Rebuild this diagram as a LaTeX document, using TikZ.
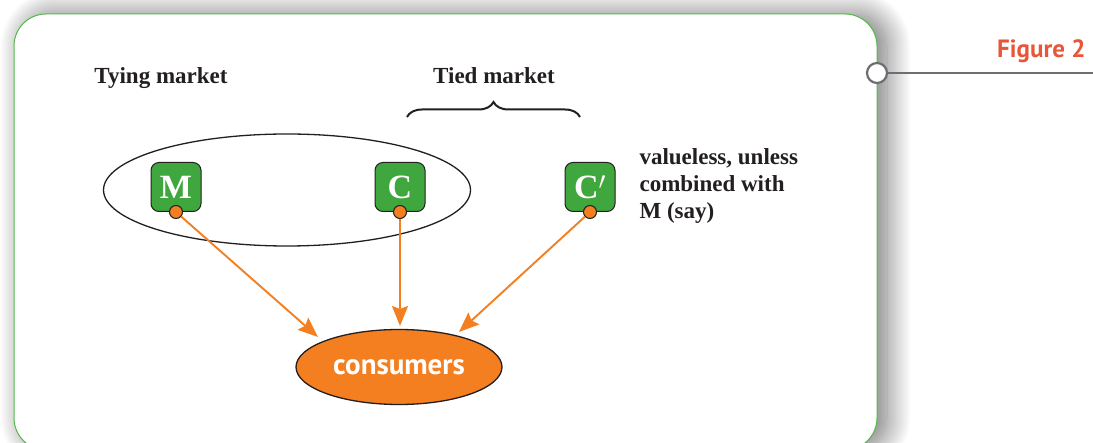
\documentclass[tikz,border=0pt]{standalone}
\usepackage{fontspec}
\setmainfont{Liberation Serif}
\newfontfamily\labelsans{PT Sans}
\usetikzlibrary{arrows.meta,shadows.blur,decorations.pathreplacing,shapes.geometric}

\definecolor{framegreen}{HTML}{52B848}
\definecolor{boxgreen}{HTML}{3FA73D}
\definecolor{portorange}{HTML}{F47F20}
\definecolor{figred}{HTML}{E8563A}
\definecolor{leadgray}{HTML}{6D6E71}
\definecolor{textdark}{HTML}{231F20}

\tikzset{
  goodbox/.style={draw=textdark, line width=1pt, fill=boxgreen, rounded corners=8pt,
    minimum width=50pt, minimum height=49pt, inner sep=0pt, text=white,
    font=\fontsize{34}{34}\selectfont\bfseries},
  port/.style={circle, draw=textdark, line width=1pt, fill=portorange,
    minimum size=13pt, inner sep=0pt},
  flow/.style={draw=portorange, line width=1.9pt,
    -{Stealth[length=20pt,width=16pt,inset=3pt]}},
  caption/.style={font=\fontsize{23}{23}\selectfont\bfseries, text=textdark},
}

\begin{document}
\begin{tikzpicture}[x=1pt,y=-1pt]
  \useasboundingbox (0,0) rectangle (1093,443);

  % panel with soft shadow
  \fill[white, rounded corners=32pt,
        blur shadow={shadow xshift=10pt, shadow yshift=0pt, shadow blur radius=24pt,
                     shadow blur steps=40, shadow opacity=55}]
    (14,14) rectangle (877,450);
  \draw[framegreen, line width=1pt, rounded corners=32pt] (14,14) rectangle (877,450);

  % figure tag
  \node[circle, draw=leadgray, line width=2.2pt, fill=white, minimum size=20pt, inner sep=0pt]
    (tag) at (877,73) {};
  \coordinate (tagend) at (1093,73);
  \draw[leadgray, line width=2.2pt] (tag.east) -- (tagend);
  \node[anchor=base east, text=figred, font=\labelsans\fontsize{25}{25}\selectfont\bfseries]
    (fig) at (1089,58) {Figure 2};

  % market groupings
  \node[caption, anchor=base] (tying) at (161,84) {Tying market};
  \node[caption, anchor=base] (tied) at (494,84) {Tied market};
  \coordinate (braceL) at (407,117);
  \coordinate (braceR) at (580,117);
  \draw[textdark, line width=2pt, decorate,
        decoration={brace, amplitude=15pt, raise=0pt}] (braceL) -- (braceR);

  \node[draw=textdark, line width=1.3pt, ellipse, minimum width=367pt, minimum height=112pt]
    (ring) at (287,190) {};

  % goods
  \node[goodbox] (M) at (176,187) {M};
  \node[goodbox] (C) at (400,187) {C};
  \node[goodbox] (Cp) at (590,187) {C$'$};
  \node[port] (pM) at (M.south) {};
  \node[port] (pC) at (C.south) {};
  \node[port] (pCp) at (Cp.south) {};

  \node[caption, anchor=base west, align=left, font=\fontsize{23}{27}\selectfont\bfseries]
    (note) at (636,219) {valueless, unless\\combined with\\M (say)};

  % consumers
  \node[ellipse, draw=textdark, line width=1.3pt, fill=portorange,
        minimum width=206pt, minimum height=75pt, text=white,
        font=\labelsans\fontsize{29}{29}\selectfont\bfseries]
    (cons) at (399,367) {consumers};

  \coordinate (tipM) at (318,337);
  \coordinate (tipC) at (400,326);
  \coordinate (tipCp) at (459,332);
  \draw[flow] (pM) -- (tipM);
  \draw[flow] (pC) -- (tipC);
  \draw[flow] (pCp) -- (tipCp);
\end{tikzpicture}
\end{document}
